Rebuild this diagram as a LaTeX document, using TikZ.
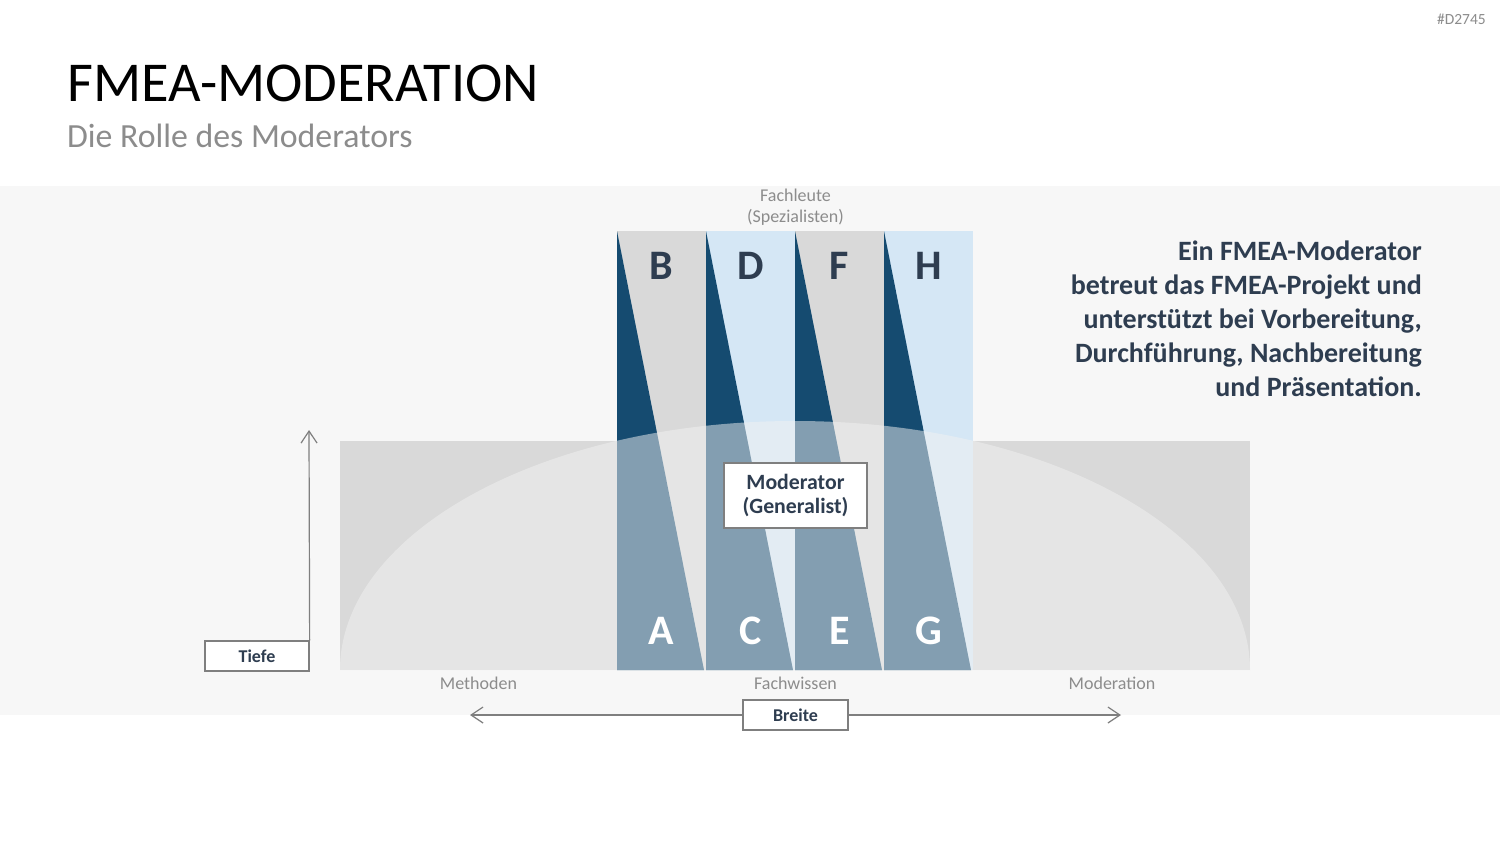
\documentclass[tikz,border=0pt]{standalone}
\usepackage{fontspec}
\setmainfont{Carlito}
\usetikzlibrary{arrows.meta}
\definecolor{darkblue}{HTML}{154B70}
\definecolor{lightblue}{HTML}{D5E7F5}
\definecolor{colgray}{HTML}{D9D9D9}
\definecolor{bandgray}{HTML}{F7F7F7}
\definecolor{txtdark}{HTML}{2E3D50}
\definecolor{txtgray}{HTML}{8C8C8C}
\definecolor{linegray}{HTML}{7F7F7F}
\definecolor{ellfill}{HTML}{F2F2F2}
\begin{document}
\begin{tikzpicture}[x=1pt,y=-1pt,
  labelbox/.style={draw=linegray, line width=1.3pt, fill=white, text=txtdark, inner sep=0pt,
    font=\bfseries\fontsize{18}{20}\selectfont},
  axisarrow/.style={draw=linegray, line width=1.2pt, -{Straight Barb[length=12pt,width=16pt,line width=1.2pt]}},
  topletter/.style={anchor=base, inner sep=0pt, text=txtdark, font=\bfseries\fontsize{42}{44}\selectfont},
  botletter/.style={anchor=base, inner sep=0pt, text=white, font=\bfseries\fontsize{42}{44}\selectfont},
  axislabel/.style={anchor=base, inner sep=0pt, text=txtgray, font=\fontsize{18}{21}\selectfont}]
\fill[white] (0,0) rectangle (1500,844);
\useasboundingbox (0,0) rectangle (1500,844);
\fill[bandgray] (0,186) rectangle (1500,715);

% header
\node[anchor=base east, inner sep=0pt, text=txtgray, font=\fontsize{15.5}{17}\selectfont] (code) at (1486,24) {\#D2745};
\node[anchor=base west, inner sep=0pt, text=black, font=\fontsize{56.3}{62}\selectfont] (title) at (67,101) {FMEA-MODERATION};
\node[anchor=base west, inner sep=0pt, text=txtgray, font=\fontsize{33.8}{38}\selectfont] (subtitle) at (67,147) {Die Rolle des Moderators};

% base field
\fill[colgray] (340,441) rectangle (1250,670);

% columns
\foreach \i/\bg in {0/colgray,1/lightblue,2/colgray,3/lightblue}{
  \pgfmathsetmacro{\xa}{617+89*\i}
  \pgfmathsetmacro{\xb}{\xa+89}
  \fill[\bg] (\xa,231) rectangle (\xb,670);
  \fill[darkblue] (\xa,231) -- (\xb-2,670) -- (\xa,670) -- cycle;
}

% half ellipse overlay
\fill[ellfill, fill opacity=0.5] (340,670) arc[start angle=180, end angle=0, x radius=455pt, y radius=249pt] -- cycle;

% letters
\node[topletter] (B) at (661.5,279) {B};
\node[topletter] (D) at (750.5,279) {D};
\node[topletter] (F) at (839.5,279) {F};
\node[topletter] (H) at (928.5,279) {H};
\node[botletter] (A) at (661.5,644) {A};
\node[botletter] (C) at (750.5,644) {C};
\node[botletter] (E) at (839.5,644) {E};
\node[botletter] (G) at (928.5,644) {G};

% moderator box
\node[labelbox, minimum width=143pt, minimum height=65pt, align=center,
  font=\bfseries\fontsize{21.8}{24}\selectfont] (mod) at (795.5,495.5) {Moderator\\(Generalist)};

% labels
\node[axislabel, anchor=north, align=center] (fach) at (795.5,189) {Fachleute\\(Spezialisten)};
\node[axislabel] (meth) at (478.5,689) {Methoden};
\node[axislabel] (fw) at (795.5,689) {Fachwissen};
\node[axislabel] (modn) at (1112,689) {Moderation};

% right text
\node[anchor=north east, align=right, inner sep=0pt, text=txtdark,
  font=\bfseries\fontsize{28}{33.8}\selectfont] (desc) at (1422,241)
  {Ein FMEA-Moderator\\betreut das FMEA-Projekt und\\unterstützt bei Vorbereitung,\\Durchführung, Nachbereitung\\und Präsentation.};

% axes
\node[labelbox, minimum width=104pt, minimum height=30pt] (tiefe) at (257,656) {Tiefe};
\coordinate (tiefetop) at (309,430);
\draw[axisarrow] (tiefe.north east) -- (tiefetop);

\node[labelbox, minimum width=105pt, minimum height=30pt] (breite) at (795.5,715) {Breite};
\coordinate (bl) at (470,715);
\coordinate (br) at (1121,715);
\draw[axisarrow] (breite.west) -- (bl);
\draw[axisarrow] (breite.east) -- (br);
\end{tikzpicture}
\end{document}
